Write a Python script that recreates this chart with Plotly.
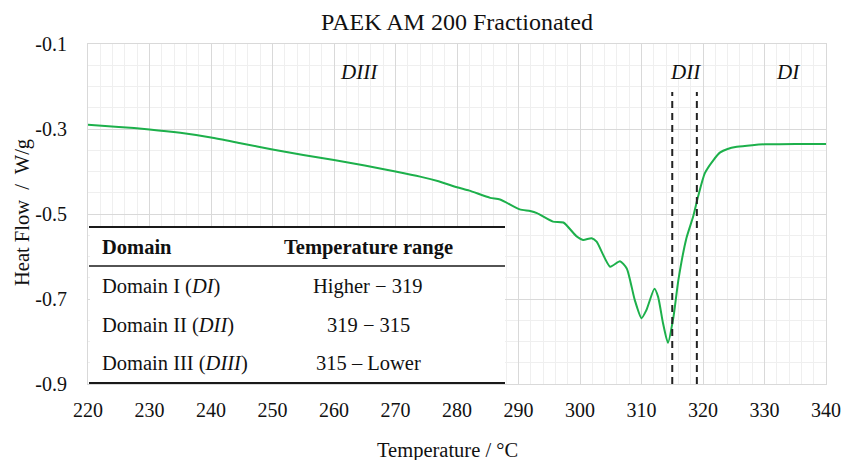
import plotly.graph_objects as go

# ---- data ----
temperature = [220, 225, 230, 235, 240, 245, 250, 255, 260, 265, 270, 274, 277, 280, 282,
               285.4, 287, 290.2, 291.9, 293, 295.6, 297.3, 299.4, 300.5, 301.9, 302.7,
               304.9, 306.5, 307.6, 308.9, 310.0, 310.8, 312.1, 312.7, 313.5, 314.3,
               315.2, 316.0, 317.3, 318.4, 319.2, 320.3, 321.7, 322.8, 324, 325.5, 328,
               330, 335, 340]
heat_flow = [-0.290, -0.295, -0.301, -0.309, -0.320, -0.334, -0.348, -0.361, -0.373, -0.386,
             -0.400, -0.412, -0.423, -0.437, -0.445, -0.462, -0.466, -0.489, -0.493, -0.498,
             -0.518, -0.520, -0.552, -0.561, -0.557, -0.565, -0.624, -0.611, -0.628, -0.702,
             -0.745, -0.726, -0.676, -0.695, -0.757, -0.803, -0.742, -0.655, -0.557, -0.506,
             -0.459, -0.404, -0.373, -0.355, -0.347, -0.342, -0.338, -0.336, -0.335, -0.335]

domain_bounds = [315, 319]
domain_labels = ["<i>DIII</i>", "<i>DII</i>", "<i>DI</i>"]
domain_label_x = [264, 317.2, 333.8]
domain_label_y = -0.166

table_header = ["<b>Domain</b>", "<b>Temperature range</b>"]
table_col1 = ["Domain I (<i>DI</i>)", "Domain II (<i>DII</i>)", "Domain III (<i>DIII</i>)"]
table_col2 = ["Higher \u2212 319", "319 \u2212 315", "315 \u2013 Lower"]

x_ticks = list(range(220, 341, 10))
y_ticks = [-0.9, -0.7, -0.5, -0.3, -0.1]

FONT = "Liberation Serif, Times New Roman, serif"
GREEN = "#1DB04B"
INK = "#111111"

fig = go.Figure()
fig.add_trace(go.Scatter(x=temperature, y=heat_flow, mode="lines",
                         line=dict(color=GREEN, width=2, shape="spline", smoothing=0.6),
                         showlegend=False, hoverinfo="skip"))

# dashed domain boundaries
for b in domain_bounds:
    fig.add_shape(type="line", xref="x", yref="y", x0=b, x1=b, y0=-0.9, y1=-0.213,
                  line=dict(color="#222222", width=2, dash="7px,5px"), layer="above")

for lbl, lx in zip(domain_labels, domain_label_x):
    fig.add_annotation(x=lx, y=domain_label_y, xref="x", yref="y", text=lbl, showarrow=False,
                       font=dict(family=FONT, size=21, color=INK))

# ---- table overlay (paper coords) ----
PL, PR, PT, PB = 88, 826, 44, 384
def px(xp):
    return (xp - PL) / (PR - PL)
def py(yp):
    return (PB - yp) / (PB - PT)

fig.add_shape(type="rect", xref="paper", yref="paper", x0=px(90), x1=px(505), y0=py(383), y1=py(227),
              fillcolor="white", line=dict(width=0), layer="above")
for yl, w in [(227, 2), (266, 1.6), (383, 2)]:
    fig.add_shape(type="line", xref="paper", yref="paper", x0=px(89), x1=px(505), y0=py(yl), y1=py(yl),
                  line=dict(color="#1a1a1a", width=w), layer="above")

TS = 20.5
fig.add_annotation(x=px(100), y=py(247), xref="paper", yref="paper", text=table_header[0],
                   showarrow=False, xanchor="left", yanchor="middle",
                   font=dict(family=FONT, size=TS, color=INK))
fig.add_annotation(x=px(368), y=py(247), xref="paper", yref="paper", text=table_header[1],
                   showarrow=False, xanchor="center", yanchor="middle",
                   font=dict(family=FONT, size=TS, color=INK))
for i, ry in enumerate([286, 325, 363]):
    fig.add_annotation(x=px(100), y=py(ry), xref="paper", yref="paper", text=table_col1[i],
                       showarrow=False, xanchor="left", yanchor="middle",
                       font=dict(family=FONT, size=TS, color=INK))
    fig.add_annotation(x=px(368), y=py(ry), xref="paper", yref="paper", text=table_col2[i],
                       showarrow=False, xanchor="center", yanchor="middle",
                       font=dict(family=FONT, size=TS, color=INK))

# axis titles
fig.add_annotation(x=px(447), y=py(450), xref="paper", yref="paper", text="Temperature / °C",
                   showarrow=False, xanchor="center", yanchor="middle",
                   font=dict(family=FONT, size=20.5, color=INK))
fig.add_annotation(x=px(22), y=py(213), xref="paper", yref="paper",
                   text="Heat Flow \u00a0/\u00a0 W/g",
                   showarrow=False, textangle=-90, xanchor="center", yanchor="middle",
                   font=dict(family=FONT, size=20.5, color=INK))

fig.update_layout(
    width=844, height=460,
    margin=dict(l=PL, r=844 - PR, t=PT, b=460 - PB, autoexpand=False),
    paper_bgcolor="white", plot_bgcolor="white",
    font=dict(family=FONT, color=INK),
    title=dict(text="PAEK AM 200 Fractionated", xref="paper", x=0.5,
               xanchor="center", yref="container", y=1 - 22 / 460, yanchor="middle",
               font=dict(family=FONT, size=24, color=INK)),
    xaxis=dict(range=[220, 340], tickvals=x_ticks, ticktext=[str(v) for v in x_ticks],
               showgrid=True, gridcolor="#d9d9d9", gridwidth=1,
               minor=dict(dtick=2, showgrid=True, gridcolor="#efefef", gridwidth=1),
               showline=True, linecolor="#d9d9d9", linewidth=1, mirror=True,
               zeroline=False, ticks="", tickfont=dict(family=FONT, size=20),
               ticklabelstandoff=8, automargin=False, fixedrange=True),
    yaxis=dict(range=[-0.9, -0.1], tickvals=y_ticks, ticktext=[f"{v:.1f}" for v in y_ticks],
               showgrid=True, gridcolor="#d9d9d9", gridwidth=1,
               minor=dict(dtick=0.05, tick0=-0.9, showgrid=True, gridcolor="#efefef", gridwidth=1),
               showline=True, linecolor="#d9d9d9", linewidth=1, mirror=True,
               zeroline=False, ticks="", tickfont=dict(family=FONT, size=20),
               ticklabelstandoff=16, automargin=False, fixedrange=True),
)

fig.write_html("out.html", config={"displayModeBar": False},
               post_script="document.body.style.margin='0px';document.body.style.overflow='hidden';")
